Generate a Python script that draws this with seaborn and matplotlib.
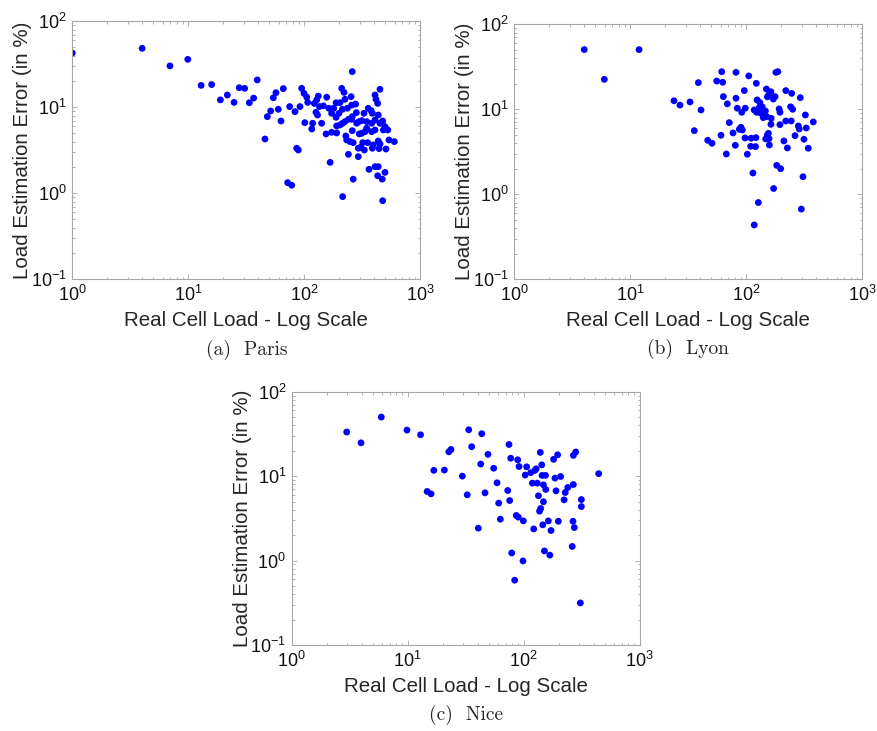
import matplotlib
matplotlib.use("Agg")
import matplotlib.pyplot as plt
import seaborn as sns
import pandas as pd
from matplotlib.ticker import LogLocator, NullFormatter

# ---------------- data ----------------
paris_load = [1.0, 4.0, 6.95, 9.9, 12.9, 15.9, 18.9, 21.7, 24.8, 27.5, 30.6, 33.6, 36.6, 39.3,
              259, 94.9, 99.4, 105, 107, 65.9, 57.0, 54.1, 51.3, 48.0, 59.7, 63.0, 45.8,
              74.8, 83.1, 91.8, 132, 128, 122, 135, 146, 156, 126, 130, 101, 118, 116, 141,
              210, 220, 253, 224, 188, 203, 163, 179, 172, 188, 199, 213, 235, 256, 277,
              449, 407, 415, 429, 356, 376, 386, 327, 281, 434, 474, 449, 407, 381, 345,
              313, 296, 283, 256, 240, 224, 214, 203, 190, 259, 496, 524, 480, 407, 381,
              345, 334, 313, 298, 259, 154, 172, 190, 228, 232, 248, 264, 292, 319, 352,
              393, 434, 449, 537, 597, 306, 329, 386, 441, 506, 86.0, 88.8, 167, 240, 292,
              407, 434, 361, 496, 429, 470, 264, 71.9, 77.9, 214, 474]
paris_err = [42.8, 48.5, 30.3, 36.1, 18.0, 18.4, 12.2, 13.9, 11.4, 16.9, 16.6, 11.3, 12.8, 20.8,
             26.0, 16.6, 14.5, 13.1, 11.4, 16.5, 14.8, 12.9, 9.06, 7.79, 9.48, 6.93, 4.28,
             10.2, 8.90, 10.2, 13.5, 12.2, 11.1, 10.2, 10.4, 13.1, 8.75, 8.14, 6.63, 6.52, 5.60, 6.52,
             16.6, 14.9, 13.3, 12.4, 11.3, 11.3, 9.74, 9.74, 8.52, 7.65, 8.52, 9.48, 9.74, 10.6, 10.9,
             16.2, 13.9, 12.4, 11.1, 9.74, 9.15, 8.52, 8.52, 8.67, 8.14, 6.93, 6.52, 7.12, 6.52, 6.81,
             7.0, 6.81, 6.52, 7.25, 7.25, 6.81, 6.52, 6.23, 6.07, 7.79, 5.96, 5.45, 5.45, 5.45, 5.21,
             5.70, 5.21, 4.99, 4.90, 5.35, 4.90, 5.12, 5.03, 4.64, 4.17, 3.99, 3.88, 3.34, 3.88, 3.88,
             3.65, 4.06, 3.75, 4.17, 3.99, 3.43, 3.19, 3.34, 3.31, 3.27, 3.34, 3.19, 2.29, 2.84, 2.67,
             2.04, 2.04, 1.90, 1.75, 1.60, 1.46, 1.46, 1.33, 1.24, 0.915, 0.82]

lyon_load = [4.01, 11.9, 5.97,
             61.4, 81.5, 105, 180, 187, 38.6, 55.6, 62.6, 122, 96.1, 149, 163, 156, 152, 177, 171,
             219, 246, 292, 63.4, 81.5, 68.6, 23.8, 26.8, 32.7, 40.7, 83.6, 91.3, 98.0, 117, 124,
             131, 137, 128, 123, 134, 146, 140, 150, 164, 192, 195, 241, 251, 323, 71.3, 90.0, 87.1,
             92.4, 76.8, 60.5, 163, 195, 219, 244, 281, 286, 329, 378, 35.6, 46.5, 50.6, 97.4, 110,
             121, 155, 152, 147, 157, 80.4, 109, 120, 158, 211, 226, 263, 314, 342, 67.3, 102, 183,
             198, 114, 308, 172, 127, 298, 117]
lyon_err = [50.4, 50.4, 22.5,
            27.7, 27.2, 24.7, 27.2, 27.7, 20.6, 21.5, 20.8, 20.2, 16.6, 17.3, 16.1, 14.7, 14.0, 14.1, 13.2,
            16.6, 15.4, 13.7, 14.1, 13.5, 11.6, 12.6, 11.2, 12.2, 9.82, 10.3, 9.22, 10.3, 9.82, 12.9,
            12.0, 10.7, 10.3, 9.22, 8.97, 9.56, 7.98, 8.20, 7.84, 10.1, 9.22, 10.7, 10.0, 8.58, 6.97, 6.14, 5.82,
            5.71, 5.27, 4.95, 6.66, 6.60, 7.29, 7.29, 6.37, 5.87, 6.03, 7.10, 5.61, 4.32, 3.98, 4.60, 4.57,
            4.64, 5.22, 4.99, 4.48, 4.52, 3.77, 3.67, 3.64, 3.80, 4.24, 3.51, 4.90, 4.44, 3.48, 2.98, 2.96, 2.19,
            2.00, 1.78, 1.61, 1.17, 0.80, 0.67, 0.436]

nice_load = [2.98, 3.96, 5.92, 9.86, 12.9, 14.7, 15.9, 16.8, 20.7, 22.6, 23.6, 29.6, 32.6, 33.6,
             35.6, 40.6, 42.6, 43.5, 46.4, 49.2, 55.1, 58.9, 60.9, 62.9, 72.8, 74.7, 75.7, 77.3,
             78.8, 83.6, 86.3, 88.8, 89.8, 91.2, 98.6, 99.3, 103, 106, 115, 119, 122, 125, 128,
             131, 134, 137, 139, 140, 143, 144, 146, 148, 148, 151, 154, 155, 163, 168, 172, 181,
             186, 190, 196, 199, 208, 223, 228, 240, 262, 266, 268, 268, 273, 281, 308, 314, 314, 443]
nice_err = [33.3, 24.8, 50.1, 35.1, 30.9, 6.58, 6.17, 11.7, 11.8, 19.4, 20.7, 10.0, 6.01, 35.4,
            22.3, 2.42, 13.9, 31.8, 6.34, 18.1, 12.4, 8.34, 4.79, 3.09, 6.76, 23.7, 5.14, 16.3,
            1.23, 0.585, 3.42, 15.6, 3.27, 13.0, 0.99, 2.95, 10.3, 12.9, 11.0, 8.26, 2.37, 11.7, 12.2,
            8.26, 5.85, 3.85, 19.1, 4.14, 13.6, 10.2, 2.65, 7.89, 4.97, 1.30, 10.2, 6.95, 2.95, 1.16,
            2.27, 15.8, 9.47, 6.70, 17.9, 2.92, 9.9, 5.24, 6.40, 7.35, 1.47, 2.92, 7.96, 17.6, 2.46,
            19.3, 0.315, 5.28, 4.36, 10.7]

captions = ["(a)  Paris", "(b)  Lyon", "(c)  Nice"]
xlabel = "Real Cell Load - Log Scale"
ylabel = "Load Estimation Error (in %)"

# ---------------- style ----------------
sns.set_style("white")
plt.rcParams["font.family"] = ["Liberation Sans", "DejaVu Sans"]
plt.rcParams["mathtext.fontset"] = "custom"
plt.rcParams["mathtext.rm"] = "Liberation Sans"
plt.rcParams["mathtext.it"] = "Liberation Sans:italic"
plt.rcParams["mathtext.bf"] = "Liberation Sans:bold"
plt.rcParams["axes.unicode_minus"] = False

fig = plt.figure(figsize=(8.77, 7.31), dpi=100)
W, H = 877, 731
def ax_at(l, t, r, b):
    return fig.add_axes([l / W, 1 - b / H, (r - l) / W, (b - t) / H])

axes = [ax_at(72.3, 21.3, 420.3, 279.3),
        ax_at(514.3, 24.3, 862.3, 279.3),
        ax_at(291.7, 391.7, 639.7, 645.0)]

datasets = [(paris_load, paris_err), (lyon_load, lyon_err), (nice_load, nice_err)]
spine_col = "#a6a6a6"

for ax, (xl, yl), cap in zip(axes, datasets, captions):
    df = pd.DataFrame({"load": xl, "err": yl})
    sns.scatterplot(data=df, x="load", y="err", ax=ax, color="#0000ff",
                    s=24, linewidth=0, edgecolor="none", alpha=1)
    ax.set_xscale("log")
    ax.set_yscale("log")
    ax.set_xlim(1, 1000)
    ax.set_ylim(0.1, 100)
    ax.xaxis.set_major_locator(LogLocator(base=10, numticks=10))
    ax.yaxis.set_major_locator(LogLocator(base=10, numticks=10))
    ax.xaxis.set_minor_locator(LogLocator(base=10, subs=range(2, 10), numticks=20))
    ax.yaxis.set_minor_locator(LogLocator(base=10, subs=range(2, 10), numticks=20))
    ax.xaxis.set_minor_formatter(NullFormatter())
    ax.yaxis.set_minor_formatter(NullFormatter())
    for sp in ax.spines.values():
        sp.set_visible(True)
        sp.set_color(spine_col)
        sp.set_linewidth(0.8)
    ax.tick_params(which="both", direction="in", top=True, right=True,
                   bottom=True, left=True, color=spine_col, width=0.6)
    ax.tick_params(which="major", length=3.5, labelsize=13, labelcolor="#111111", pad=4)
    ax.tick_params(which="minor", length=1.8)
    ax.set_xlabel(xlabel, fontsize=14.8, labelpad=4.5)
    ax.set_ylabel(ylabel, fontsize=14.8, labelpad=-1)
    ax.grid(False)
    ax.text(0.5, -0.275, cap, transform=ax.transAxes, ha="center", va="center",
            fontsize=14, family=["cmr10", "DejaVu Serif"])

fig.savefig("out.png", dpi=100, facecolor="white")
